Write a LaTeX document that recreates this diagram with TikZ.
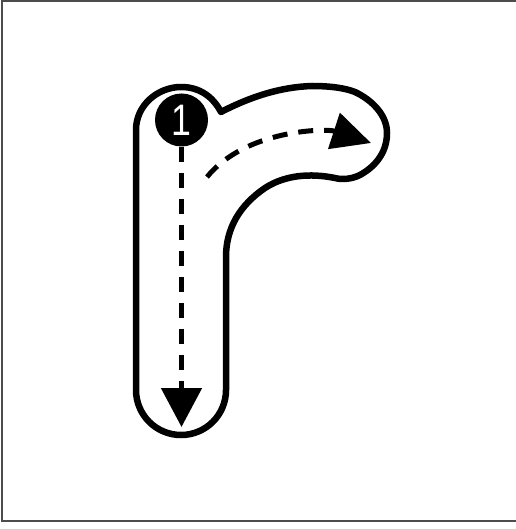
\documentclass[tikz,border=0pt]{standalone}
\usepackage{fontspec}
\setmainfont{Liberation Sans}
\usetikzlibrary{arrows.meta}
\tikzset{
  outline/.style={line width=6.5pt, line join=round, fill=white},
  guide/.style={line width=5pt, dash pattern=on 15pt off 11pt},
  startdot/.style={circle, fill=black, minimum size=53pt, inner sep=0pt, text=white, font=\fontsize{42}{42}\selectfont},
  frame/.style={draw=black!70, line width=2pt}
}
\begin{document}
\begin{tikzpicture}[x=1pt,y=-1pt]
\useasboundingbox (0,0) rectangle (515,529);
\draw[frame] (1.5,1.2) rectangle (520,520.5);
% letter outline
\draw[outline] (136,390) -- (136,130)
  .. controls (136,105) and (158,87) .. (181,87)
  .. controls (200,87) and (213,97) .. (221,112)
  .. controls (250,97) and (280,87) .. (312,86)
  .. controls (330,86) and (345,88) .. (355,92)
  .. controls (372,100) and (387,115) .. (387,133)
  .. controls (387,150) and (378,165) .. (360,175)
  .. controls (352,179) and (342,180) .. (335,178)
  .. controls (310,173) and (285,175) .. (265,188)
  .. controls (240,205) and (226,228) .. (226,257)
  -- (226,390) arc (0:180:45) -- cycle;
% start marker
\node[startdot] (n1) at (181.5,120) {\scalebox{0.85}[1.05]{1}};
\coordinate (downtip) at (181.5,427);
\coordinate (curvestart) at (207,177);
\coordinate (righttip) at (371,143);
\draw[guide, -{Triangle[length=39pt,width=40pt]}] (n1.south) -- (downtip);
\draw[guide, -{Triangle[length=39pt,width=37pt]}] (curvestart)
  .. controls (245,130) and (325,128) .. (righttip);
\end{tikzpicture}
\end{document}
